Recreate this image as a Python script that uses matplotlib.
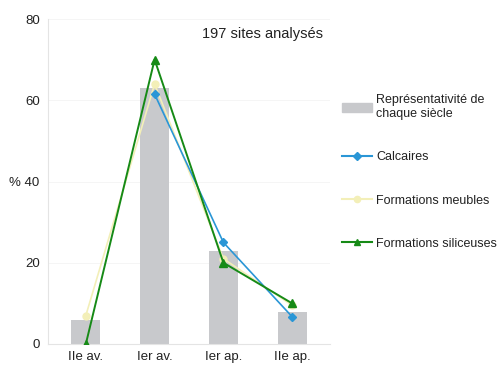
import matplotlib.pyplot as plt
from matplotlib.patches import Patch
from matplotlib.lines import Line2D

siecles = ['IIe av.', 'Ier av.', 'Ier ap.', 'IIe ap.']
representativite = [6, 63, 23, 8]
calcaires = [float('nan'), 61.5, 25, 6.7]
meubles = [7, 64, 21, 9.5]
siliceuses = [0, 70, 20, 10]

plt.rcParams['font.family'] = ['Liberation Sans', 'DejaVu Sans']

fig = plt.figure(figsize=(5.04, 3.74), dpi=100)
ax = fig.add_axes([48 / 504, 30 / 374, 282 / 504, 325 / 374])

x = list(range(len(siecles)))
ax.bar(x, representativite, width=0.42, color='#c8c9cc', zorder=1)
ax.plot(x, meubles, color='#f3efb8', marker='o', markersize=5, lw=1.2, zorder=2)
ax.plot(x, calcaires, color='#2a96d6', marker='D', markersize=4.5, lw=1.2, zorder=3)
ax.plot(x, siliceuses, color='#168a16', marker='^', markersize=6, lw=1.4, zorder=4)

ax.set_ylim(0, 80)
ax.set_xlim(-0.55, 3.55)
ax.set_yticks([0, 20, 40, 60, 80])
ax.set_yticklabels(['0', '20', '% 40', '60', '80'])
ax.set_xticks(x)
ax.set_xticklabels(siecles)
ax.tick_params(labelsize=9.5, colors='#222222', length=0, pad=5)
ax.tick_params(axis='y', pad=6)
for s in ['top', 'right']:
    ax.spines[s].set_visible(False)
for s in ['left', 'bottom']:
    ax.spines[s].set_color('#e4e4e4')
ax.grid(axis='y', color='#f4f4f4', lw=0.6, zorder=0)
ax.set_axisbelow(True)

ax.text(0.975, 0.975, '197 sites analysés', transform=ax.transAxes, ha='right', va='top',
        fontsize=10.5, color='#222222')

handles = [
    Patch(color='#c8c9cc'),
    Line2D([], [], color='#2a96d6', marker='D', markersize=4),
    Line2D([], [], color='#f3efb8', marker='o', markersize=4.5),
    Line2D([], [], color='#168a16', marker='^', markersize=5),
]
labels = ['Représentativité de\nchaque siècle', 'Calcaires', 'Formations meubles',
          'Formations siliceuses']
fig.legend(handles, labels, loc='upper left', bbox_to_anchor=(336 / 504, 1 - 88 / 374),
           frameon=False, fontsize=9, labelspacing=2.5, handlelength=2.4,
           handletextpad=0.3, borderpad=0, labelcolor='#222222')

fig.savefig('out.png', dpi=100)
